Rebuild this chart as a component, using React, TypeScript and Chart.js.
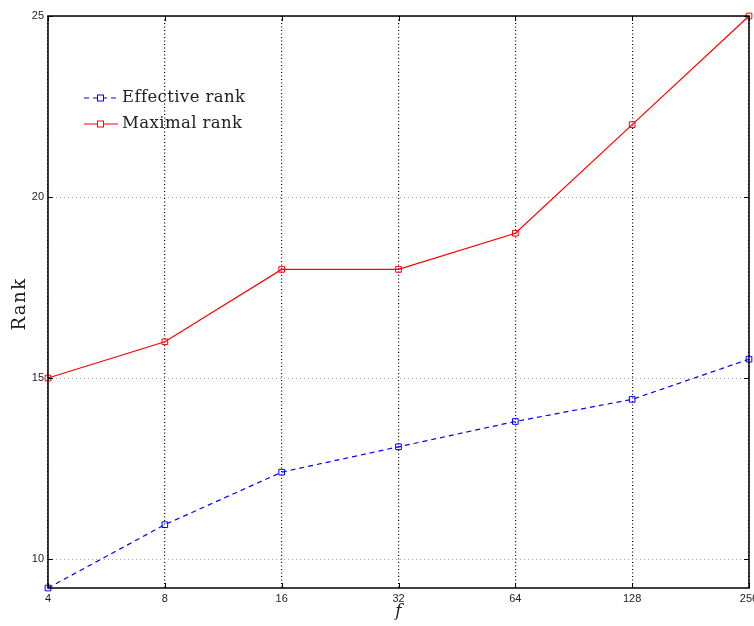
import React, { useEffect, useRef } from "react";
import { Chart, registerables } from "chart.js";

Chart.register(...registerables);

const categories = ["4", "8", "16", "32", "64", "128", "256"];
const effectiveRank = [9.2, 10.95, 12.4, 13.1, 13.8, 14.41, 15.52];
const maximalRank = [15, 16, 18, 18, 19, 22, 25];
const yTicks = [10, 15, 20, 25];
const yMin = 9.2;
const yMax = 25;
const yTitle = "Rank";
const xTitle = "f";

const framePlugin = {
  id: "frameTicks",
  afterDraw(chart: any) {
    const { ctx, chartArea } = chart;
    const { left, right, top, bottom } = chartArea;
    const xs = chart.scales.x;
    const ys = chart.scales.y;
    ctx.save();
    ctx.strokeStyle = "#000";
    ctx.lineWidth = 1.5;
    ctx.setLineDash([]);
    ctx.strokeRect(left, top, right - left, bottom - top);
    ctx.lineWidth = 1;
    const tl = 5;
    ys.ticks.forEach((t: any) => {
      const y = Math.round(ys.getPixelForValue(t.value)) + 0.5;
      ctx.beginPath();
      ctx.moveTo(left, y);
      ctx.lineTo(left + tl, y);
      ctx.moveTo(right, y);
      ctx.lineTo(right - tl, y);
      ctx.stroke();
    });
    xs.ticks.forEach((t: any, i: number) => {
      const x = Math.round(xs.getPixelForTick(i)) + 0.5;
      ctx.beginPath();
      ctx.moveTo(x, bottom);
      ctx.lineTo(x, bottom - tl);
      ctx.moveTo(x, top);
      ctx.lineTo(x, top + tl);
      ctx.stroke();
    });
    // y axis title
    ctx.save();
    ctx.translate(20, (top + bottom) / 2 + 2);
    ctx.rotate(-Math.PI / 2);
    ctx.fillStyle = "#222";
    ctx.font = '18px "DejaVu Serif", serif';
    (ctx as any).letterSpacing = "1.5px";
    ctx.textAlign = "center";
    ctx.textBaseline = "middle";
    ctx.fillText(yTitle, 0, 0);
    ctx.restore();
    ctx.restore();
  },
};

const legendPlugin = {
  id: "innerLegend",
  afterDatasetsDraw(chart: any) {
    const { ctx } = chart;
    const entries = chart.data.datasets;
    const x0 = 84;
    const x1 = 118;
    const textX = 122;
    const rows = [98, 124];
    ctx.save();
    entries.forEach((ds: any, i: number) => {
      const y = rows[i];
      ctx.strokeStyle = ds.borderColor;
      ctx.lineWidth = ds.borderWidth;
      ctx.setLineDash(ds.borderDash || []);
      ctx.beginPath();
      ctx.moveTo(x0, y);
      ctx.lineTo(x1, y);
      ctx.stroke();
      ctx.setLineDash([]);
      ctx.lineWidth = 1;
      ctx.fillStyle = "#fff";
      ctx.fillRect(x0 + 13.5, y - 3, 6, 6);
      ctx.strokeRect(x0 + 13.5, y - 3, 6, 6);
      ctx.fillStyle = "#222";
      ctx.font = '16.5px "DejaVu Serif", serif';
      (ctx as any).letterSpacing = "0.4px";
      ctx.textBaseline = "middle";
      ctx.textAlign = "left";
      ctx.fillText(ds.label, textX, y);
    });
    ctx.restore();
  },
};

export default function App() {
  const ref = useRef<HTMLCanvasElement | null>(null);

  useEffect(() => {
    if (!ref.current) return;
    const chart = new Chart(ref.current, {
      type: "line",
      data: {
        labels: categories,
        datasets: [
          {
            label: "Effective rank",
            data: effectiveRank,
            borderColor: "#0000ff",
            backgroundColor: "rgba(255,255,255,0)",
            borderWidth: 1.2,
            borderDash: [5, 4],
            pointStyle: "rect",
            pointRadius: 4,
            pointBorderWidth: 1,
            pointBackgroundColor: "rgba(255,255,255,0)",
            pointBorderColor: "#0000ff",
            tension: 0,
            clip: false,
          },
          {
            label: "Maximal rank",
            data: maximalRank,
            borderColor: "#ff0000",
            backgroundColor: "rgba(255,255,255,0)",
            borderWidth: 1.2,
            pointStyle: "rect",
            pointRadius: 4,
            pointBorderWidth: 1,
            pointBackgroundColor: "rgba(255,255,255,0)",
            pointBorderColor: "#ff0000",
            tension: 0,
            clip: false,
          },
        ],
      },
      options: {
        animation: false,
        responsive: false,
        maintainAspectRatio: false,
        layout: { padding: { left: 0, right: 3, top: 16, bottom: 0 } },
        plugins: {
          legend: { display: false },
          tooltip: { enabled: false },
        },
        scales: {
          x: {
            type: "category",
            offset: false,
            grid: {
              display: true,
              color: "#000",
              lineWidth: 1.2,
              drawTicks: false,
            },
            border: { display: false, dash: [1, 2.5] } as any,
            ticks: {
              padding: 4,
              color: "#222",
              font: { family: '"Liberation Sans", Arial, sans-serif', size: 11 },
              maxRotation: 0,
              autoSkip: false,
            },
            title: {
              display: true,
              text: xTitle,
              color: "#222",
              padding: { top: 0, bottom: 4 },
              font: { family: '"DejaVu Serif", serif', size: 17, style: "italic" },
            },
            afterFit: (s: any) => {
              s.height = 38;
              s.paddingLeft = 0;
              s.paddingRight = 0;
            },
          },
          y: {
            type: "linear",
            min: yMin,
            max: yMax,
            grid: {
              color: "#aaaaaa",
              lineWidth: 1,
              drawTicks: false,
            },
            border: { display: false, dash: [1, 3] } as any,
            ticks: {
              padding: 4,
              color: "#222",
              font: { family: '"Liberation Sans", Arial, sans-serif', size: 11 },
            },
            afterBuildTicks: (s: any) => {
              s.ticks = yTicks.map((v) => ({ value: v }));
            },
            title: { display: false },
            afterFit: (s: any) => {
              s.width = 48;
              s.paddingTop = 0;
              s.paddingBottom = 0;
            },
          },
        },
      },
      plugins: [framePlugin, legendPlugin],
    });
    return () => chart.destroy();
  }, []);

  return (
    <div style={{ position: "fixed", left: 0, top: 0, width: 754, height: 626, background: "#fff" }}>
      <canvas ref={ref} width={754} height={626} style={{ width: 754, height: 626, display: "block" }} />
    </div>
  );
}
